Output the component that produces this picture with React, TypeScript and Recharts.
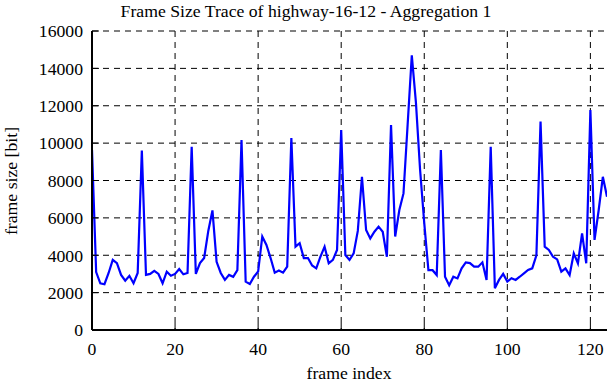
import React from 'react';
import { LineChart, Line, XAxis, YAxis, CartesianGrid } from 'recharts';

const frameSizes: number[] = [
  9650, 3100, 2500, 2450, 3050, 3750, 3580, 2950, 2640, 2900,
  2500, 3050, 9600, 2950, 3000, 3170, 3000, 2500, 3120, 2900,
  3000, 3260, 2980, 3050, 9800, 3000, 3580, 3850, 5300, 6400,
  3650, 3050, 2680, 2950, 2850, 3200, 10160, 2590, 2460, 2850,
  3130, 5000, 4550, 3850, 3070, 3180, 3070, 3390, 10270, 4460,
  4650, 3850, 3850, 3450, 3300, 3920, 4460, 3570, 3750, 4280,
  10700, 4010, 3750, 4100, 5300, 8200, 5350, 4900, 5260, 5530,
  5260, 3920, 10970, 5000, 6420, 7310, 11000, 14700, 12150, 8560,
  5720, 3200, 3200, 2940, 9630, 2850, 2400, 2850, 2760, 3300,
  3620, 3580, 3390, 3390, 3620, 2680, 9810, 2230, 2680, 3000,
  2590, 2770, 2680, 2850, 3030, 3210, 3300, 4000, 11150, 4460,
  4280, 3920, 3780, 3120, 3300, 2940, 4100, 3570, 5170, 3570,
  11770, 4820, 6420, 8200, 7130,
];

const xTicks: number[] = [0, 20, 40, 60, 80, 100, 120];
const yTicks: number[] = [0, 2000, 4000, 6000, 8000, 10000, 12000, 14000, 16000];

const chartTitle = 'Frame Size Trace of highway-16-12 - Aggregation 1';
const xLabel = 'frame index';
const yLabel = 'frame size [bit]';

const data = frameSizes.map((v, i) => ({ x: i, y: v }));

const FONT = '"Liberation Serif", "Times New Roman", serif';
const FS = 17.7;

const EmptyTick = () => <g />;

const tickStyle = { fontFamily: FONT, fontSize: FS, fill: '#000' };

const axisLine = { stroke: '#000', strokeWidth: 2 };
const tickLine = { stroke: '#000', strokeWidth: 1 };

export default function App() {
  return (
    <div
      style={{
        position: 'absolute',
        left: 0,
        top: 0,
        width: 612,
        height: 382,
        background: '#fff',
        fontFamily: FONT,
      }}
    >
      <LineChart
        width={612}
        height={382}
        data={data}
        margin={{ top: 31, right: 5, bottom: 22, left: 12 }}
        style={{ fontFamily: FONT }}
      >
        <text x={306} y={17} textAnchor="middle" style={{ fontFamily: FONT }} fontSize={FS} fill="#000">
          {chartTitle}
        </text>
        <text x={349} y={379} textAnchor="middle" style={{ fontFamily: FONT }} fontSize={FS} fill="#000">
          {xLabel}
        </text>
        <text
          x={17}
          y={181}
          textAnchor="middle"
          style={{ fontFamily: FONT }}
          fontSize={FS}
          fill="#000"
          transform="rotate(-90 17 181)"
        >
          {yLabel}
        </text>
        <CartesianGrid
          stroke="#000"
          strokeDasharray="6 5"
          strokeWidth={1}
          vertical
          horizontal
          syncWithTicks
        />
        <XAxis
          dataKey="x"
          type="number"
          domain={[0, 124]}
          ticks={xTicks}
          interval={0}
          height={30}
          axisLine={axisLine}
          tickSize={-7}
          tickMargin={19}
          tickLine={tickLine}
          tick={tickStyle}
          fontFamily={FONT}
          fontSize={FS}
          allowDataOverflow
        />
        <XAxis
          xAxisId="top"
          orientation="top"
          dataKey="x"
          type="number"
          domain={[0, 124]}
          ticks={xTicks}
          interval={0}
          height={0}
          axisLine={axisLine}
          tickSize={-7}
          tickLine={tickLine}
          tick={EmptyTick}
        />
        <YAxis
          type="number"
          domain={[0, 16000]}
          ticks={yTicks}
          interval={0}
          width={80}
          axisLine={axisLine}
          tickSize={-7}
          tickMargin={16}
          tickLine={tickLine}
          tick={tickStyle}
          fontFamily={FONT}
          fontSize={FS}
        />
        <YAxis
          yAxisId="right"
          orientation="right"
          type="number"
          domain={[0, 16000]}
          ticks={yTicks}
          interval={0}
          width={0}
          axisLine={axisLine}
          tickSize={-7}
          tickLine={tickLine}
          tick={EmptyTick}
        />
        <Line
          type="linear"
          dataKey="y"
          stroke="#0000ff"
          strokeWidth={2.2}
          dot={false}
          activeDot={false}
          isAnimationActive={false}
        />
      </LineChart>
    </div>
  );
}
